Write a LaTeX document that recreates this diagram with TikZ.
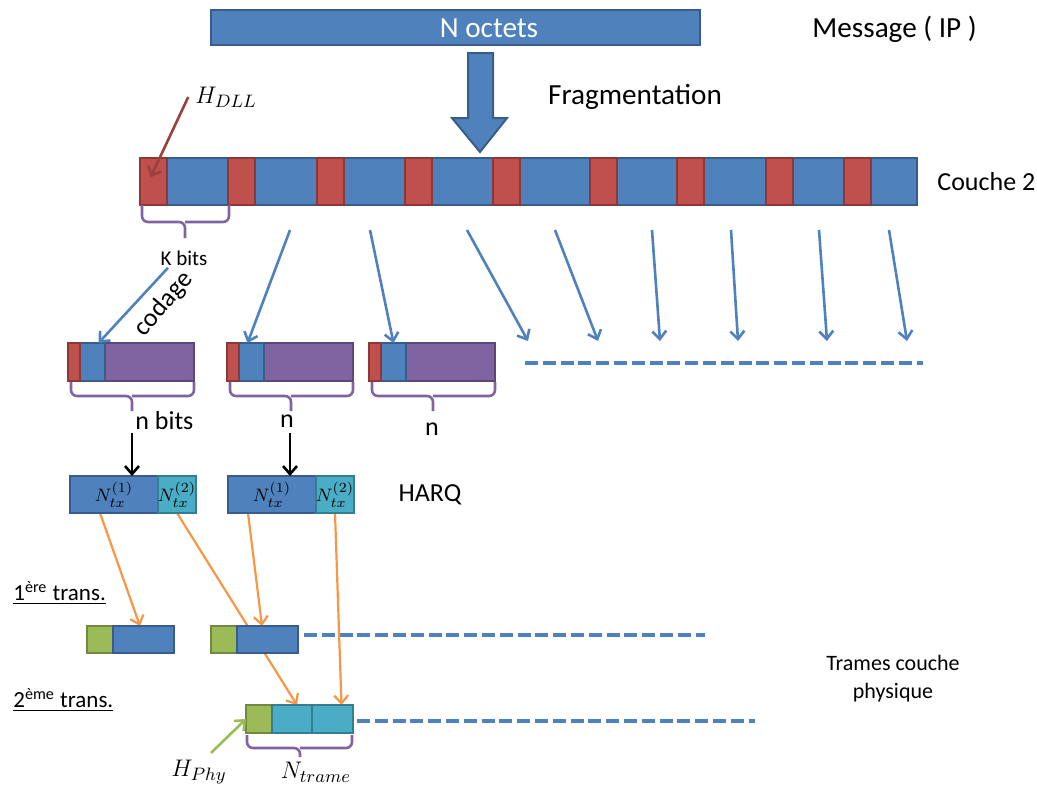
\documentclass[tikz,border=0pt]{standalone}
\usepackage{fontspec}
\setmainfont{Carlito}
\usetikzlibrary{arrows.meta,backgrounds}
\definecolor{segblue}{HTML}{4F81BD}
\definecolor{segblueline}{HTML}{385D8A}
\definecolor{segred}{HTML}{C0504D}
\definecolor{segredline}{HTML}{8C3836}
\definecolor{segpurple}{HTML}{8064A2}
\definecolor{segpurpleline}{HTML}{5C4776}
\definecolor{segcyan}{HTML}{4BACC6}
\definecolor{segcyanline}{HTML}{357D91}
\definecolor{seggreen}{HTML}{9BBB59}
\definecolor{seggreenline}{HTML}{71893F}
\definecolor{orangearrow}{HTML}{F79646}
\begin{document}
\begin{tikzpicture}[x=0.5pt,y=-0.5pt,>={Straight Barb[length=4pt,width=7pt]}]
  \tikzset{blk/.style={draw, line width=1pt, inner sep=0pt, outer sep=0pt},
    bluebox/.style={blk, fill=segblue, draw=segblueline},
    redbox/.style={blk, fill=segred, draw=segredline},
    purplebox/.style={blk, fill=segpurple, draw=segpurpleline},
    cyanbox/.style={blk, fill=segcyan, draw=segcyanline},
    greenbox/.style={blk, fill=seggreen, draw=seggreenline},
    txt/.style={font=\fontsize{13}{15}\selectfont, inner sep=1pt},
    bigtxt/.style={font=\fontsize{14.6}{17}\selectfont, inner sep=1pt},
    brace/.style={draw=segpurple, line width=1.3pt, rounded corners=3pt},
    fragarrow/.style={->, draw=segblue, line width=1.3pt},
    harqarrow/.style={->, draw=orangearrow, line width=1.1pt},
    dashline/.style={draw=segblue, line width=2pt, dash pattern=on 6.5pt off 2.4pt}}
  \useasboundingbox (0,0) rectangle (1037,789);
  % message and fragmentation
  \node[bluebox, minimum width=244.5pt, minimum height=17.5pt] (msg) at (455.5,27.5) {};
  \node[bigtxt, text=white] (msgtxt) at (489,28) {N octets};
  \node[bigtxt, anchor=west] (msglbl) at (810,29) {Message ( IP )};
  \draw[fill=segblue, draw=segblueline, line width=1pt] (468,53) -- (493,53) -- (493,118) -- (507,118)
    -- (480,152) -- (452,118) -- (468,118) -- cycle;
  \node[bigtxt] (frag) at (635,97) {Fragmentation};
  % couche 2
  \node[bluebox, minimum width=388.5pt, minimum height=23.5pt] (couche) at (528.5,181.5) {};
  \foreach \x [count=\i] in {140,228,317,405,493,590,677,766,844}
    \node[redbox, minimum width=13.5pt, minimum height=23.5pt] (h\i) at (\x+13.5,181.5) {};
  \node[txt, anchor=west] (couchelbl) at (935,182) {Couche 2};
  \node[font=\fontsize{13}{15}\selectfont] (hdll) at (226,97) {$H_{DLL}$};
  \draw[->, draw=segred!80!black, line width=1.3pt] (hdll.west) -- ([xshift=-1.5pt,yshift=2pt]h1.center);
  \draw[brace] (142,205) |- (185,222) -- (185,238) (185,222) -| (229,205);
  \node[font=\fontsize{10.5}{12}\selectfont, inner sep=1pt] (kbits) at (184,258) {K bits};
  \node[font=\fontsize{13}{15}\selectfont, rotate=50, inner sep=0pt] (codage) at (164,304) {codage};
  % codage
  \foreach \x [count=\i] in {68,227,369} {
    \node[purplebox, minimum width=44.5pt, minimum height=19pt] (cp\i) at (\x+81.5,362) {};
    \node[bluebox, minimum width=12.5pt, minimum height=19pt] (cb\i) at (\x+24.5,362) {};
    \node[redbox, minimum width=6pt, minimum height=19pt] (cr\i) at (\x+6,362) {};
    \draw[brace] (\x+3,382) |- (\x+64,396) -- (\x+64,411) (\x+64,396) -| (\x+126,382);
  }
  \draw[fragarrow] ([xshift=-8pt]kbits.south) -- ([xshift=3pt]cb1.north);
  \foreach \a/\b [count=\i] in {290/247,370/395,467/528,555/598,652/660,731/738,819/827,889/907} {
    \coordinate (s\i) at (\a,230);
    \coordinate (e\i) at (\b,341);
  }
  \draw[fragarrow] (s1) -- ([xshift=-2pt]cb2.north);
  \draw[fragarrow] (s2) -- (cb3.north);
  \foreach \i in {3,...,8}
    \draw[fragarrow] (s\i) -- (e\i);
  \draw[dashline] (525,363) -- (923,363);
  \node[txt, anchor=west] (nbits) at (133,421) {n bits};
  \node[txt] (n2) at (287,421) {n};
  \node[txt] (n3) at (432,429) {n};
  % HARQ
  \foreach \x [count=\i] in {70,228} {
    \node[bluebox, minimum width=44pt, minimum height=18.5pt, font=\fontsize{9.5}{11}\selectfont] (qa\i) at (\x+44,494.5) {$N_{tx}^{(1)}$};
    \node[cyanbox, minimum width=19pt, minimum height=18.5pt, font=\fontsize{9.5}{11}\selectfont] (qb\i) at (\x+107,494.5) {$N_{tx}^{(2)}$};
  }
  \coordinate (d1) at (132,433);
  \coordinate (d2) at (290,433);
  \draw[->, line width=1.3pt] (d1) -- (d1 |- qa1.north);
  \draw[->, line width=1.3pt] (d2) -- (d2 |- qa2.north);
  \node[txt] (harq) at (430,495) {HARQ};
  % transmissions
  \foreach \x [count=\i] in {87,211} {
    \node[greenbox, minimum width=13pt, minimum height=13.5pt] (ga\i) at (\x+13,639.5) {};
    \node[bluebox, minimum width=30.5pt, minimum height=13.5pt] (ta\i) at (\x+56.5,639.5) {};
  }
  \node[greenbox, minimum width=13pt, minimum height=14pt] (f1) at (259,719) {};
  \node[cyanbox, minimum width=20pt, minimum height=14pt] (f2) at (292,719) {};
  \node[cyanbox, minimum width=20.5pt, minimum height=14pt] (f3) at (332.5,719) {};
  \begin{scope}[on background layer]
    \draw[dashline] (304,635) -- (705,635);
    \draw[dashline] (357,721) -- (755,721);
    \draw[harqarrow] ([xshift=-7pt]qa1.south) -- ([xshift=-1.75pt]ta1.north);
    \draw[harqarrow] (qb1.south) -- ([xshift=2.5pt]f2.north);
    \draw[harqarrow] ([xshift=-12pt]qa2.south) -- ([xshift=-2.75pt]ta2.north);
    \draw[harqarrow] (qb2.south) -- ([xshift=4.5pt]f3.north);
  \end{scope}
  \node[font=\fontsize{11.5}{14}\selectfont, inner sep=1pt, anchor=west] (trans1) at (11,593) {\underline{1\textsuperscript{ère} trans.}};
  \node[font=\fontsize{11.5}{14}\selectfont, inner sep=1pt, anchor=west] (trans2) at (11,700) {\underline{2\textsuperscript{ème} trans.}};
  \node[font=\fontsize{11}{14}\selectfont, align=center] (trames) at (893,679) {Trames couche\\physique};
  \draw[brace] (247,735) |- (300,748) -- (300,757) (300,748) -| (352,735);
  \node[font=\fontsize{13}{15}\selectfont] (hphy) at (199,772) {$H_{Phy}$};
  \node[font=\fontsize{13}{15}\selectfont] (ntrame) at (316,772) {$N_{trame}$};
  \draw[->, draw=seggreen, line width=1.3pt] ([xshift=6pt]hphy.north) -- (f1.west);
\end{tikzpicture}
\end{document}
